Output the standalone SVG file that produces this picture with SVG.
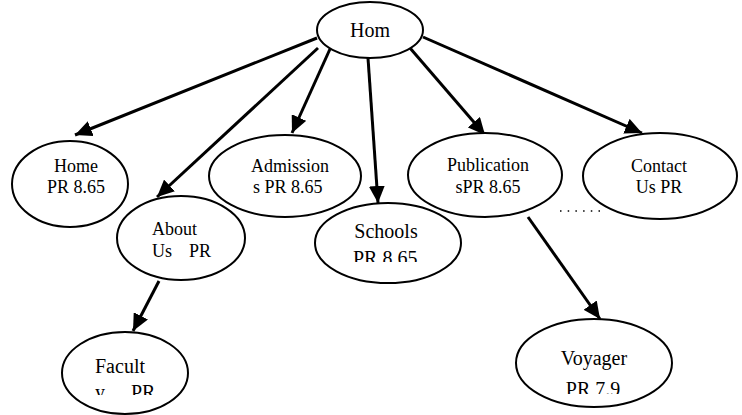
<svg xmlns="http://www.w3.org/2000/svg" width="742" height="415" viewBox="0 0 742 415">
  <style>
    .node ellipse { fill: #fff; stroke: #000; stroke-width: 2; }
    .node text { font-family: "Liberation Serif", "Times New Roman", serif; fill: #000; }
    .sm { font-size: 18px; }
    .lg { font-size: 20px; }
    .edge { stroke: #000; stroke-width: 3; fill: none; marker-end: url(#arrow); }
  </style>
  <defs>
    <marker id="arrow" markerUnits="userSpaceOnUse" markerWidth="18" markerHeight="16" refX="17" refY="8" orient="auto">
      <path d="M0,0 L17,8 L0,16 z" fill="#000"/>
    </marker>
    <clipPath id="clip-schools"><rect x="300" y="200" width="180" height="62"/></clipPath>
    <clipPath id="clip-faculty"><rect x="40" y="330" width="200" height="65"/></clipPath>
    <clipPath id="clip-voyager"><rect x="500" y="320" width="200" height="74"/></clipPath>
  </defs>

  <!-- connectors -->
  <g id="connectors">
    <line class="edge" x1="317" y1="38" x2="75" y2="135"/>
    <line class="edge" x1="318" y1="48" x2="157" y2="197"/>
    <line class="edge" x1="330" y1="49" x2="292" y2="133"/>
    <line class="edge" x1="368" y1="58" x2="378" y2="203"/>
    <line class="edge" x1="410" y1="48" x2="485" y2="135"/>
    <line class="edge" x1="423" y1="37" x2="642" y2="133"/>
    <line class="edge" x1="159" y1="281" x2="133" y2="331"/>
    <line class="edge" x1="528" y1="217" x2="600" y2="319"/>
    <line x1="560" y1="211" x2="604" y2="211" stroke="#000" stroke-width="1.5" stroke-dasharray="1.5 6.2"/>
  </g>

  <g id="hom" class="node">
    <ellipse cx="370" cy="30" rx="53" ry="28"/>
    <text class="lg" x="370" y="37" text-anchor="middle">Hom</text>
  </g>

  <g id="home" class="node">
    <ellipse cx="70" cy="184" rx="58" ry="43"/>
    <text class="sm" x="76" y="172" text-anchor="middle">Home</text>
    <text class="sm" x="76" y="193" text-anchor="middle">PR 8.65</text>
  </g>

  <g id="admissions" class="node">
    <ellipse cx="285" cy="176" rx="76" ry="41"/>
    <text class="sm" x="290" y="172" text-anchor="middle">Admission</text>
    <text class="sm" x="253" y="193">s PR 8.65</text>
  </g>

  <g id="publications" class="node">
    <ellipse cx="485" cy="175" rx="77" ry="42"/>
    <text class="sm" x="488" y="171" text-anchor="middle">Publication</text>
    <text class="sm" x="488" y="193" text-anchor="middle">sPR 8.65</text>
  </g>

  <g id="contact" class="node">
    <ellipse cx="660" cy="176" rx="77" ry="43"/>
    <text class="sm" x="659" y="172" text-anchor="middle">Contact</text>
    <text class="sm" x="659" y="193" text-anchor="middle">Us PR</text>
  </g>

  <g id="about" class="node">
    <ellipse cx="181" cy="238" rx="64" ry="42"/>
    <text class="sm" x="152" y="235">About</text>
    <text class="sm" y="257"><tspan x="152">Us</tspan><tspan x="189">PR</tspan></text>
  </g>

  <g id="schools" class="node">
    <ellipse cx="388" cy="243" rx="73" ry="40"/>
    <text class="lg" x="386" y="238" text-anchor="middle">Schools</text>
    <text class="lg" x="353" y="265" clip-path="url(#clip-schools)">PR 8.65</text>
  </g>

  <g id="faculty" class="node">
    <ellipse cx="125" cy="373" rx="63" ry="41"/>
    <text class="lg" x="95" y="373">Facult</text>
    <text class="lg" y="399" clip-path="url(#clip-faculty)"><tspan x="95">y</tspan><tspan x="131">PR</tspan></text>
  </g>

  <g id="voyager" class="node">
    <ellipse cx="594" cy="363" rx="78" ry="44"/>
    <text class="lg" x="594" y="365" text-anchor="middle">Voyager</text>
    <text class="lg" x="593" y="396" text-anchor="middle" clip-path="url(#clip-voyager)">PR 7.9</text>
  </g>
</svg>
